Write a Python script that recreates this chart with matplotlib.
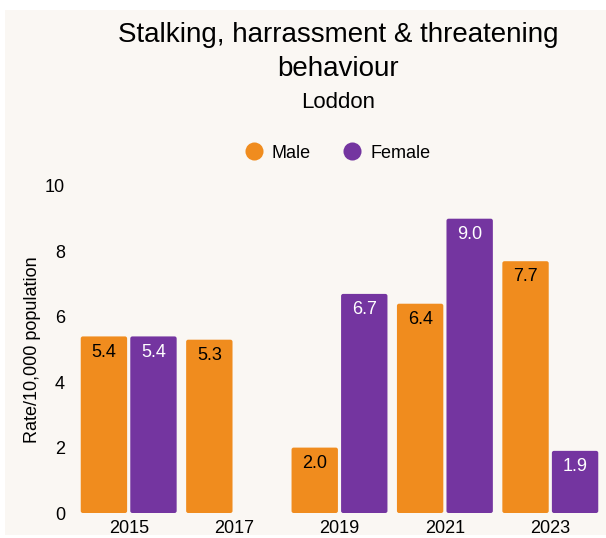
import numpy as np
import matplotlib
matplotlib.use("Agg")
import matplotlib.pyplot as plt
from matplotlib.patches import Rectangle, FancyBboxPatch
from matplotlib.lines import Line2D

plt.rcParams['font.family'] = ['Liberation Sans', 'DejaVu Sans']

years = ['2015', '2017', '2019', '2021', '2023']
male = [5.4, 5.3, 2.0, 6.4, 7.7]
female = [5.4, np.nan, 6.7, 9.0, 1.9]

c_male = '#F08C1E'
c_female = '#7435A0'
bg = '#FAF7F3'

fig = plt.figure(figsize=(6.06, 5.38), dpi=100, facecolor='white')
# cream panel, white border top/left
fig.patches.append(Rectangle((5 / 606, 3 / 538), 601 / 606, 525 / 538,
                             transform=fig.transFigure, facecolor=bg,
                             edgecolor='none', zorder=-10))

ax = fig.add_axes([76 / 606, 25 / 538, 527 / 606, 327 / 538])
ax.set_facecolor('none')
ax.set_zorder(1)

x = np.arange(len(years))
w = 0.44
gap = 0.015

ax.set_xlim(-0.5, len(years) - 0.5)
ax.set_ylim(0, 10)


def draw_bars(xs, vals, color, txtcolor):
    for xi, v in zip(xs, vals):
        if np.isnan(v):
            continue
        p = FancyBboxPatch((xi - w / 2, 0), w, v,
                           boxstyle="round,pad=0,rounding_size=0.02",
                           mutation_aspect=3.2,
                           facecolor=color, edgecolor='none', zorder=2)
        ax.add_patch(p)
        ax.text(xi, v - 0.22, f'{v:.1f}', ha='center', va='top',
                fontsize=13, color=txtcolor, zorder=3)


draw_bars(x - w / 2 - gap, male, c_male, 'black')
draw_bars(x + w / 2 + gap, female, c_female, 'white')

ax.set_yticks([0, 2, 4, 6, 8, 10])
ax.set_xticks(x)
ax.set_xticklabels(years)
ax.tick_params(length=0, labelsize=13, pad=8)
ax.tick_params(axis='x', pad=5)
for s in ax.spines.values():
    s.set_visible(False)
ax.set_ylabel('Rate/10,000 population', fontsize=13, labelpad=3)

fig.text(338 / 606, 1 - 52 / 538, 'Stalking, harrassment & threatening\nbehaviour',
         ha='center', va='center', fontsize=20, linespacing=1.35)
fig.text(338 / 606, 1 - 102 / 538, 'Loddon', ha='center', va='center', fontsize=16)

handles = [Line2D([], [], marker='o', linestyle='none', markersize=13,
                  markerfacecolor=c_male, markeredgecolor='none', label='Male'),
           Line2D([], [], marker='o', linestyle='none', markersize=13,
                  markerfacecolor=c_female, markeredgecolor='none', label='Female')]
fig.legend(handles=handles, loc='center', bbox_to_anchor=(333 / 606, 1 - 153 / 538),
           ncol=2, frameon=False, fontsize=13, handletextpad=0.0, columnspacing=1.3)

fig.savefig('out.png', dpi=100, facecolor='white')
